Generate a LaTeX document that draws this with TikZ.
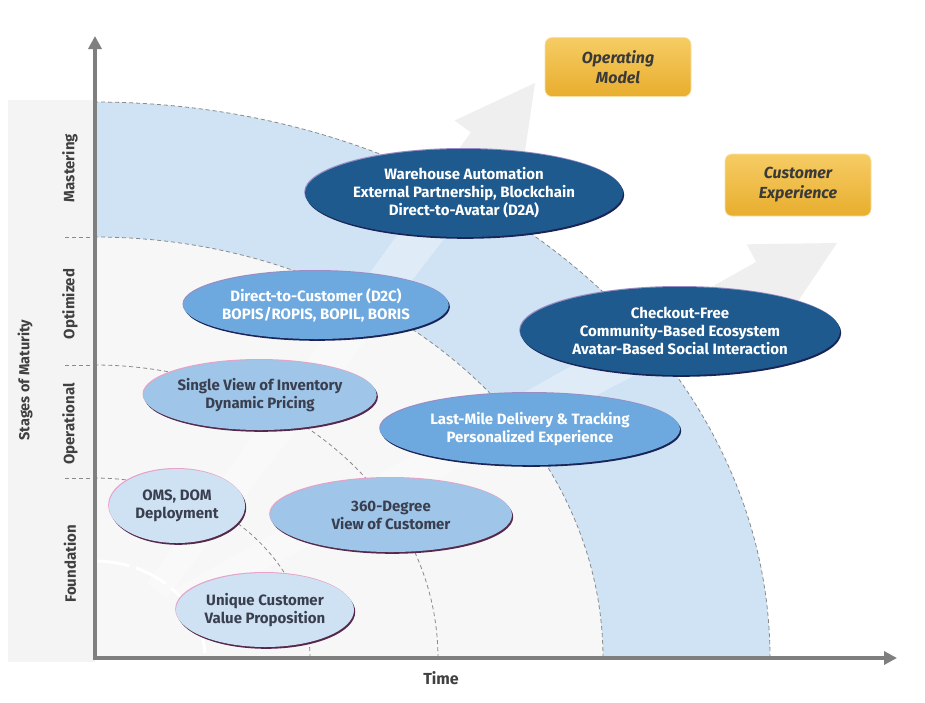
\documentclass[tikz,border=0pt]{standalone}
\usepackage{fontspec}
\setmainfont{Fira Sans}
\usetikzlibrary{arrows.meta,shapes.geometric,shadows}
\definecolor{panelgray}{HTML}{F4F4F4}
\definecolor{innergray}{HTML}{F7F7F7}
\definecolor{bandblue}{HTML}{CFE3F4}
\definecolor{axisgray}{HTML}{7F7F7F}
\definecolor{dashgray}{HTML}{8A8A8A}
\definecolor{darkfill}{HTML}{1F5A8E}
\definecolor{medfill}{HTML}{6DA9DF}
\definecolor{lightfill}{HTML}{9FC5E8}
\definecolor{palefill}{HTML}{CFE2F3}
\definecolor{darktext}{HTML}{3A3F4F}
\definecolor{labeltext}{HTML}{404040}
\definecolor{pinkrim}{HTML}{E6A2C8}
\definecolor{maroonrim}{HTML}{55284C}
\definecolor{lavrim}{HTML}{9A8CC4}
\definecolor{navyrim}{HTML}{1A2456}
\definecolor{goldtop}{HTML}{F6CC64}
\definecolor{goldbot}{HTML}{E8AE2E}
\definecolor{boxtext}{HTML}{3A3A3A}
\definecolor{arrowgray}{HTML}{EFEFEF}
\begin{document}
\begin{tikzpicture}[x=1pt,y=-1pt,
  dashline/.style={draw=dashgray,line width=0.8pt,dash pattern=on 4pt off 3pt},
  axisline/.style={draw=axisgray,line width=3.5pt,-{Triangle[width=13pt,length=13pt]}},
  arrowback/.style={fill=arrowgray},
  arrowfront/.style={fill=white,fill opacity=0.35},
  stagelabel/.style={rotate=90,font=\fontsize{15}{17}\selectfont\bfseries,text=labeltext},
  bubble/.style={ellipse,inner sep=0pt,align=center,
     font=\fontsize{15}{18}\selectfont\bfseries},
  lightrims/.style={drop shadow={shadow xshift=-0.8pt,shadow yshift=1pt,fill=pinkrim,opacity=1},
     drop shadow={shadow xshift=1.2pt,shadow yshift=-1.8pt,fill=maroonrim,opacity=1}},
  darkrims/.style={drop shadow={shadow xshift=-0.8pt,shadow yshift=1pt,fill=lavrim,opacity=1},
     drop shadow={shadow xshift=1.2pt,shadow yshift=-1.8pt,fill=navyrim,opacity=1}},
  darkbub/.style={bubble,darkrims,fill=darkfill,text=white},
  medbub/.style={bubble,darkrims,fill=medfill,text=white},
  lightbub/.style={bubble,lightrims,fill=lightfill,text=darktext},
  palebub/.style={bubble,lightrims,fill=palefill,text=darktext},
  goldbox/.style={rounded corners=7pt,top color=goldtop,bottom color=goldbot,draw=goldtop!60!white,
     line width=0.6pt,minimum width=146pt,minimum height=59pt,align=center,text=boxtext,
     font=\fontsize{16}{20}\selectfont\bfseries\itshape}
]
\useasboundingbox (0,0) rectangle (925,702);
\fill[white] (0,0) rectangle (925,702);
% big faint arrows, background layer (visible on white)
\fill[arrowback] (147.4,582.8) -- (470.8,132.4) -- (454.7,120.5) -- (535,83) -- (522.1,170.7) -- (506,158.8) -- (166.6,597.2) -- cycle;
\fill[arrowback] (174.3,589.5) -- (756.2,261.9) -- (746.7,244.3) -- (837,243) -- (786.7,318.1) -- (777.2,300.5) -- (185.7,610.5) -- cycle;
% left panel
\fill[panelgray] (8,100) rectangle (95,662);
% inner gray region
\fill[innergray] plot[domain=0:90,samples=90] ({95+508*cos(\x)},{658-421*sin(\x)}) -- (95,658) -- cycle;
% blue band
\fill[bandblue] plot[domain=0:90,samples=90] ({95+675*cos(\x)},{658-556*sin(\x)})
  -- plot[domain=90:0,samples=90] ({95+508*cos(\x)},{658-421*sin(\x)}) -- cycle;
% big faint arrows, front layer (lightens band and gray)
\begin{scope}
\clip plot[domain=0:90,samples=90] ({95+675*cos(\x)},{658-556*sin(\x)}) -- (95,658) -- cycle;
\fill[arrowfront] (147.4,582.8) -- (470.8,132.4) -- (454.7,120.5) -- (535,83) -- (522.1,170.7) -- (506,158.8) -- (166.6,597.2) -- cycle;
\fill[arrowfront] (174.3,589.5) -- (756.2,261.9) -- (746.7,244.3) -- (837,243) -- (786.7,318.1) -- (777.2,300.5) -- (185.7,610.5) -- cycle;
\end{scope}
% white dashed arc at lower left
\draw[white,line width=3pt,dash pattern=on 34pt off 7pt] plot[domain=3:92,samples=40] ({95+110*cos(\x)},{658-97*sin(\x)});
% dashed arcs
\draw[dashline] plot[domain=0:90,samples=90] ({95+675*cos(\x)},{658-556*sin(\x)});
\draw[dashline] plot[domain=0:90,samples=90] ({95+508*cos(\x)},{658-421*sin(\x)});
\draw[dashline] plot[domain=0:90,samples=70] ({95+343*cos(\x)},{658-293*sin(\x)});
\draw[dashline] plot[domain=0:90,samples=60] ({95+215*cos(\x)},{658-180*sin(\x)});
% stage boundary ticks
\coordinate (t1a) at (65,237); \coordinate (t1b) at (95,237);
\coordinate (t2a) at (65,365); \coordinate (t2b) at (95,365);
\coordinate (t3a) at (65,478); \coordinate (t3b) at (95,478);
\draw[dashline] (t1a) -- (t1b);
\draw[dashline] (t2a) -- (t2b);
\draw[dashline] (t3a) -- (t3b);
% axes
\coordinate (O) at (95,658);
\coordinate (Ytop) at (95,36);
\coordinate (Xend) at (897,658);
\draw[axisline] (95,660) -- (Ytop);
\draw[axisline] (93.3,658) -- (Xend);
% bubbles
\node[darkbub,minimum width=318pt,minimum height=88pt] (wa) at (464,193)
  {Warehouse Automation\\External Partnership, Blockchain\\Direct-to-Avatar (D2A)};
\node[medbub,minimum width=262pt,minimum height=68pt] (d2c) at (316,305)
  {Direct-to-Customer (D2C)\\BOPIS/ROPIS, BOPIL, BORIS};
\node[darkbub,minimum width=320pt,minimum height=88pt] (cf) at (680,331)
  {Checkout-Free\\Community-Based Ecosystem\\Avatar-Based Social Interaction};
\node[lightbub,minimum width=228pt,minimum height=70pt] (sv) at (260,395)
  {Single View of Inventory\\Dynamic Pricing};
\node[medbub,minimum width=300pt,minimum height=72pt] (lm) at (530,429)
  {Last-Mile Delivery \& Tracking\\Personalized Experience};
\node[palebub,minimum width=136pt,minimum height=74pt] (oms) at (177,506)
  {OMS, DOM\\Deployment};
\node[lightbub,minimum width=242pt,minimum height=74pt] (v360) at (391,515)
  {360-Degree\\View of Customer};
\node[palebub,minimum width=178pt,minimum height=74pt] (ucv) at (265,610)
  {Unique Customer\\Value Proposition};
% gold boxes
\node[goldbox] (om) at (618,67) {Operating\\Model};
\node[goldbox,minimum height=62pt] (cx) at (798,185) {Customer\\Experience};
% labels
\node[stagelabel] (lmas) at (70,168) {Mastering};
\node[stagelabel] (lopt) at (70,304) {Optimized};
\node[stagelabel] (lope) at (70,424) {Operational};
\node[stagelabel] (lfou) at (70,564) {Foundation};
\node[stagelabel,font=\fontsize{14.5}{17}\selectfont\bfseries] (lsta) at (25,380) {Stages of Maturity};
\node[font=\fontsize{16}{18}\selectfont\bfseries,text=labeltext] (ltime) at (441,678) {Time};
\end{tikzpicture}
\end{document}
